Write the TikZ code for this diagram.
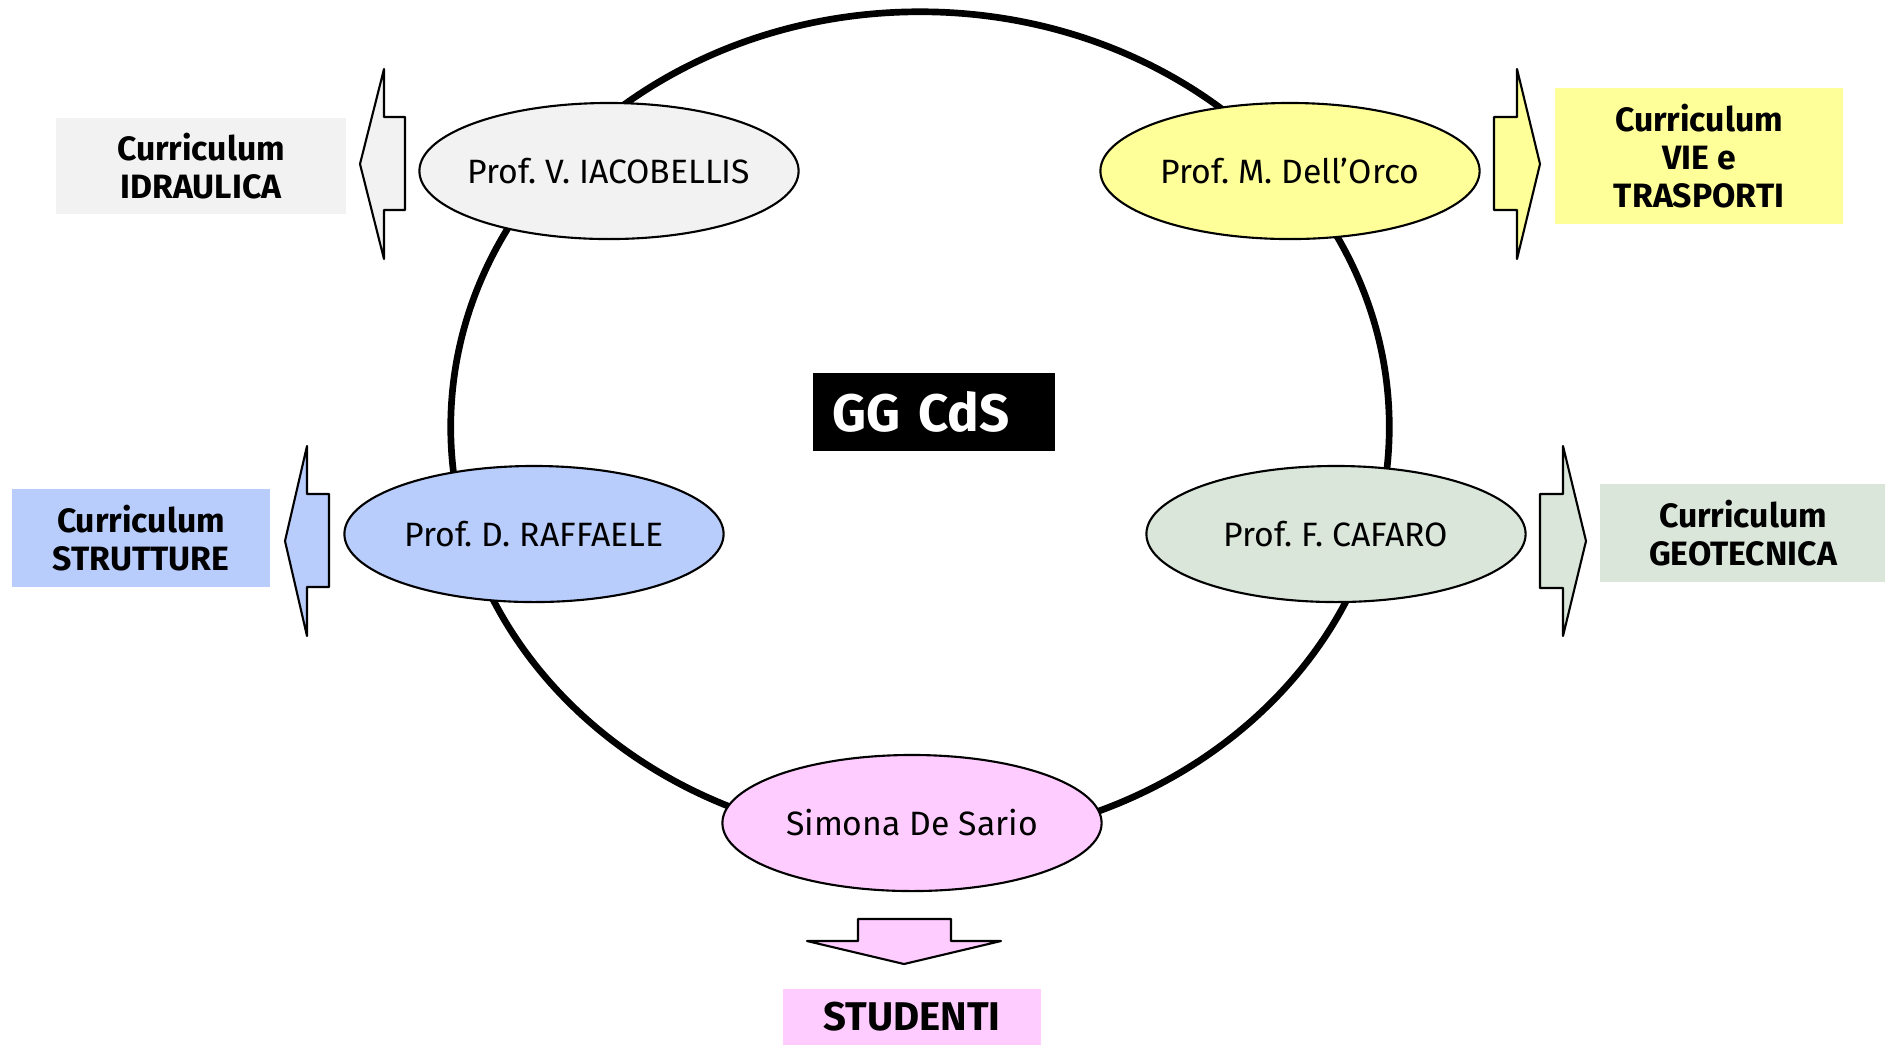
\documentclass[tikz,border=0pt]{standalone}
\usepackage{fontspec}
\setmainfont{Fira Sans}
\usepackage{tikz}
\usetikzlibrary{shapes.geometric}
\definecolor{grigio}{HTML}{F2F2F2}
\definecolor{giallo}{HTML}{FFFF99}
\definecolor{azzurro}{HTML}{B9CDFD}
\definecolor{verde}{HTML}{DAE6DA}
\definecolor{rosa}{HTML}{FFCCFF}

\begin{document}
\begin{tikzpicture}[x=0.01cm,y=-0.01cm,
  prof/.style={ellipse, draw, line width=0.6pt, inner xsep=-0.3cm, inner ysep=0pt,
    minimum width=3.79cm, minimum height=1.36cm,
    font=\fontsize{9.6}{11}\selectfont},
  curr/.style={rectangle, inner sep=0pt, align=center,
    font=\bfseries\fontsize{9.6}{10.8}\selectfont},
  blk/.style={draw, line width=0.6pt, line join=round}]
  \begin{scope}

\useasboundingbox (0,0) rectangle (1885,1044);

% anello
\draw[line width=1.9pt] (920,427) ellipse [x radius=4.69cm, y radius=4.15cm];

\node[fill=black, text=white, minimum width=2.42cm, minimum height=0.78cm,
  inner xsep=0.2cm, text width=2.02cm, align=left,
  font=\bfseries\fontsize{15}{18}\selectfont] (gg) at (934,412) {GG CdS};

%\node (c0) at (920,427) {};
\node[prof, fill=grigio] (p1) at (609,171) {Prof.\ V.\ IACOBELLIS};
\node[prof, fill=giallo] (p2) at (1290,171) {Prof.\ M.\ Dell’Orco};
\node[prof, fill=azzurro] (p3) at (534,534) {Prof.\ D.\ RAFFAELE};
\node[prof, fill=verde] (p4) at (1336,534) {Prof.\ F.\ CAFARO};
\node[prof, fill=rosa] (p5) at (912,823) {Simona De Sario};

\node[curr, fill=grigio, minimum width=2.89cm, minimum height=0.96cm] (c1) at (201,166) {Curriculum\\IDRAULICA};
\node[curr, fill=giallo, minimum width=2.87cm, minimum height=1.36cm] (c2) at (1699,156) {Curriculum\\VIE e\\TRASPORTI};
\node[curr, fill=azzurro, minimum width=2.57cm, minimum height=0.97cm] (c3) at (141,538) {Curriculum\\STRUTTURE};
\node[curr, fill=verde, minimum width=2.85cm, minimum height=0.97cm] (c4) at (1743,533) {Curriculum\\GEOTECNICA};
\node[curr, fill=rosa, minimum width=2.58cm, minimum height=0.56cm,
  font=\bfseries\fontsize{11.4}{13}\selectfont] (c5) at (912,1017) {STUDENTI};

% frecce
\draw[blk, fill=grigio] (405,117) -- (384,117) -- (384,69) -- (360,164) -- (384,259) -- (384,210) -- (405,210) -- cycle;
\draw[blk, fill=giallo] (1494,117) -- (1517,117) -- (1517,69) -- (1540,164) -- (1517,259) -- (1517,210) -- (1494,210) -- cycle;
\draw[blk, fill=azzurro] (329,494) -- (307,494) -- (307,446) -- (285,541) -- (307,636) -- (307,587) -- (329,587) -- cycle;
\draw[blk, fill=verde] (1540,494) -- (1563,494) -- (1563,446) -- (1586,541) -- (1563,636) -- (1563,588) -- (1540,588) -- cycle;
\draw[blk, fill=rosa] (858,919) -- (858,941) -- (807,941) -- (904,964) -- (1001,941) -- (951,941) -- (951,919) -- cycle;
  \end{scope}
\end{tikzpicture}
\end{document}
